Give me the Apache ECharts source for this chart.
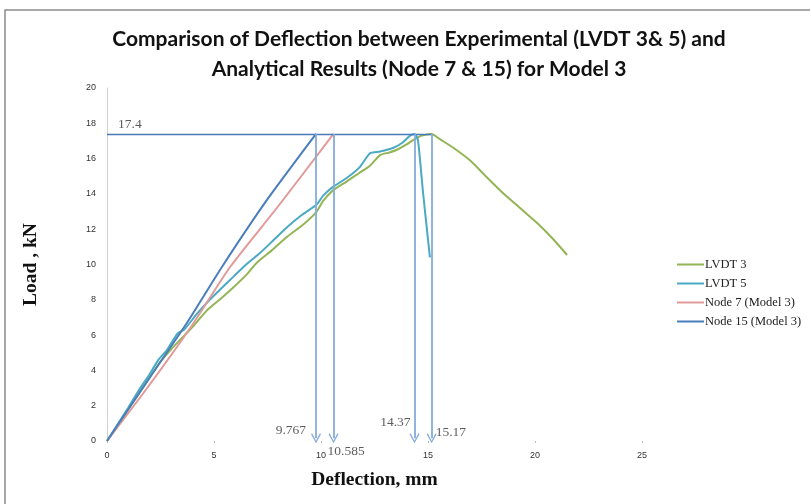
<!DOCTYPE html>
<html>
<head>
<meta charset="utf-8">
<script src="https://cdn.jsdelivr.net/npm/echarts@6/dist/echarts.min.js"></script>
<style>
  html, body { margin: 0; padding: 0; background: #fff; }
  #chart { width: 810px; height: 504px; }
</style>
</head>
<body>
<div id="chart"></div>
<script>
// LVDT readings [deflection mm, load kN]
const lvdt3 = [
  [0, 0], [0.5, 0.9], [1, 1.8], [1.5, 2.7], [2, 3.6], [2.5, 4.5], [3, 5.2], [3.55, 5.9],
  [4.1, 6.6], [4.67, 7.4], [5.3, 8.05], [5.9, 8.7], [6.5, 9.4], [7.0, 10.1], [7.7, 10.8],
  [8.4, 11.56], [9.2, 12.3], [9.8, 13.0], [10.1, 13.6], [10.56, 14.2], [11.2, 14.7],
  [11.8, 15.2], [12.29, 15.6], [12.76, 16.2], [13.2, 16.35], [13.55, 16.5], [14.0, 16.8],
  [14.3, 17.05], [14.7, 17.3], [15.17, 17.4], [15.56, 17.1], [16.2, 16.6], [16.96, 15.9],
  [17.7, 15.0], [18.5, 14.05], [19.3, 13.2], [20.1, 12.35], [20.8, 11.5], [21.5, 10.54]
]
const lvdt5 = [
  [0, 0], [0.5, 0.95], [1, 1.9], [1.5, 2.9], [2, 3.8], [2.4, 4.6], [2.8, 5.15], [3.3, 6.1],
  [3.6, 6.3], [4.2, 7.2], [4.8, 8.0], [5.3, 8.6], [5.9, 9.3], [6.5, 10.0], [7.15, 10.65],
  [7.8, 11.4], [8.4, 12.1], [9.1, 12.8], [9.8, 13.4], [10.1, 13.9], [10.56, 14.4],
  [11.2, 14.9], [11.8, 15.5], [12.29, 16.3], [12.76, 16.4], [13.36, 16.6], [13.8, 16.9],
  [14.16, 17.3], [14.37, 17.4], [14.53, 17.05], [14.77, 14.05], [15.09, 10.4]
]
// analytical results
const node7 = [[0, 0], [2, 3.2], [4, 6.6], [5.75, 9.86], [8, 13.3], [10.585, 17.4]]
const node15 = [[0, 0], [2, 3.6], [3.74, 6.7], [5.37, 9.86], [7.5, 13.7], [9.767, 17.4]]

const peakLoad = 17.4
const peakDefl = [9.767, 10.585, 14.37, 15.17]
const peakText = ['9.767', '10.585', '14.37', '15.17']

const seriesNames = ['LVDT 3', 'LVDT 5', 'Node 7 (Model 3)', 'Node 15 (Model 3)']
const seriesColors = ['#93b555', '#4aaac4', '#e09a98', '#4a7ebb']

const chart = echarts.init(document.getElementById('chart'))

// arrow head (open chevron, pointing up before rotation)
const arrowHead = 'path://M5,0 L10,9 L8.9,9.8 L5,2.6 L1.1,9.8 L0,9 Z'

const labelOffsets = [[-10, -11], [-6, 10], [-4, -19], [4, -9]]
const labelAlign = ['right', 'left', 'right', 'left']

const annoLabels = [{
  value: [0, peakLoad],
  label: { show: true, formatter: String(peakLoad), position: 'inside', align: 'left', offset: [11, -9] }
}].concat(peakDefl.map((d, i) => ({
  value: [d, 0],
  label: { show: true, formatter: peakText[i], position: 'inside', align: labelAlign[i], offset: labelOffsets[i] }
})))

const arrowLines = [
  [{ coord: [0, peakLoad], symbol: 'none', lineStyle: { color: '#4a78b8', width: 1.3 } },
   { coord: [peakDefl[3], peakLoad], symbol: 'none' }]
].concat(peakDefl.map(d => [
  { coord: [d, peakLoad], symbol: 'none' },
  { coord: [d, 0.15], symbol: arrowHead }
]))

const option = {
  animation: false,
  backgroundColor: '#fff',
  title: {
    text: 'Comparison of Deflection between Experimental (LVDT 3& 5) and\nAnalytical Results (Node 7 & 15) for Model 3',
    left: 414,
    textAlign: 'center',
    top: 19,
    textStyle: { fontFamily: 'Lato', fontWeight: 'bold', fontSize: 21, lineHeight: 30, color: '#111' }
  },
  graphic: [{
    type: 'rect',
    shape: { x: 5, y: 10, width: 830, height: 520 },
    style: { fill: 'none', stroke: '#8a8a8a', lineWidth: 1.5 },
    silent: true
  }],
  legend: {
    data: seriesNames,
    orient: 'vertical',
    left: 672,
    top: 253,
    itemGap: 6,
    itemWidth: 27,
    itemHeight: 2,
    icon: 'rect',
    textStyle: { fontFamily: 'Liberation Serif', fontSize: 12.5, color: '#222', padding: [0, 0, 0, -4] }
  },
  grid: { left: 107, right: 168, top: 88, bottom: 63 },
  xAxis: {
    type: 'value',
    min: 0, max: 25, interval: 5,
    name: 'Deflection, mm',
    nameLocation: 'middle',
    nameGap: 29,
    nameTextStyle: { fontFamily: 'Liberation Serif', fontWeight: 'bold', fontSize: 19.5, color: '#111' },
    axisLine: { show: false },
    axisTick: { show: true, length: 2, lineStyle: { color: '#bbb' } },
    axisLabel: { fontFamily: 'Liberation Sans', fontSize: 9, color: '#333', margin: 10 },
    splitLine: { show: false }
  },
  yAxis: {
    type: 'value',
    min: 0, max: 20, interval: 2,
    name: 'Load , kN',
    nameLocation: 'middle',
    nameGap: 66,
    nameTextStyle: { fontFamily: 'Liberation Serif', fontWeight: 'bold', fontSize: 19.5, color: '#111' },
    axisLine: { show: true, lineStyle: { color: '#d0d0d0', width: 1 } },
    axisTick: { show: false },
    axisLabel: { fontFamily: 'Liberation Sans', fontSize: 9, color: '#333', margin: 11 },
    splitLine: { show: false }
  },
  series: [
    { name: seriesNames[0], type: 'line', data: lvdt3, showSymbol: false, smooth: 0.2, lineStyle: { width: 2 } },
    { name: seriesNames[1], type: 'line', data: lvdt5, showSymbol: false, smooth: 0.2, lineStyle: { width: 2 } },
    { name: seriesNames[2], type: 'line', data: node7, showSymbol: false, smooth: 0.2, lineStyle: { width: 2 } },
    { name: seriesNames[3], type: 'line', data: node15, showSymbol: false, smooth: 0.2, lineStyle: { width: 2 } },
    {
      name: 'peak', type: 'line', data: [], silent: true,
      markLine: {
        silent: true,
        symbolSize: 10,
        label: { show: false },
        lineStyle: { type: 'solid', color: '#86abdc', width: 1.8 },
        data: arrowLines
      }
    },
    {
      name: 'labels', type: 'scatter', data: annoLabels, symbolSize: 0, silent: true,
      label: { fontFamily: 'Liberation Serif', fontSize: 13.5, color: '#333' }
    }
  ],
  color: seriesColors
}

chart.setOption(option)
</script>
</body>
</html>
